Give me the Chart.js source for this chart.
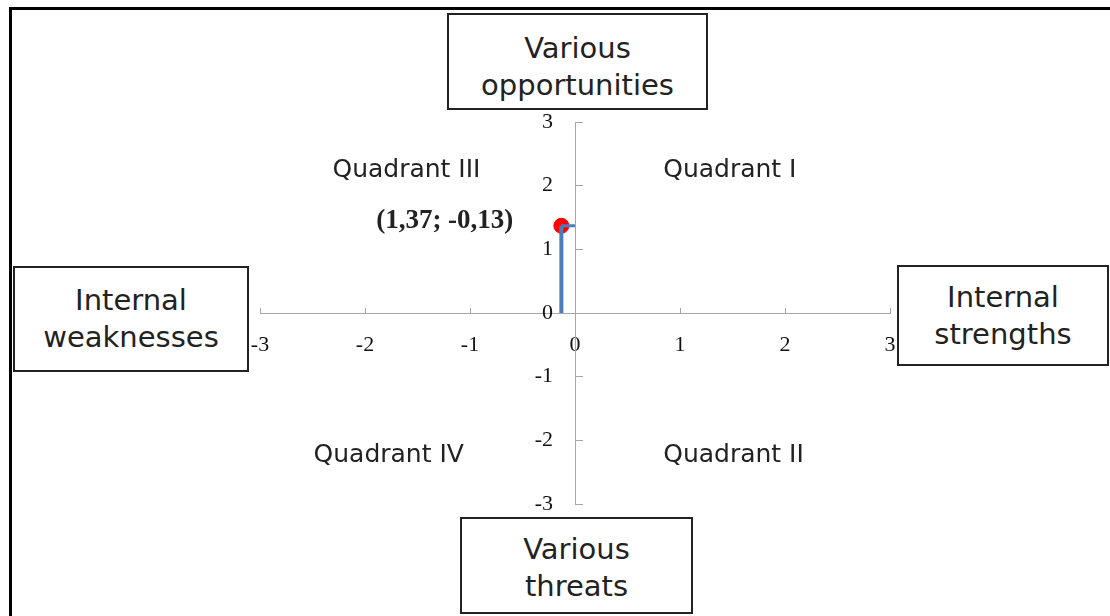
<!DOCTYPE html>
<html>
<head>
<meta charset="utf-8">
<script src="https://cdn.jsdelivr.net/npm/chart.js@4.4.1/dist/chart.umd.min.js"></script>
<style>
  html, body { margin: 0; padding: 0; background: #fff; }
  #wrap { position: relative; width: 1110px; height: 616px; overflow: hidden; }
  #frame { position: absolute; left: 9px; top: 7px; width: 1200px; height: 700px;
           border-top: 3px solid #000; border-left: 3px solid #000; }
  canvas { position: absolute; left: 0; top: 0; }
  .box { position: absolute; box-sizing: border-box; border: 2px solid #222; background: #fff;
         font-family: "DejaVu Sans", Verdana, sans-serif; font-size: 29px; color: #222;
         text-align: center; line-height: 37px; padding-top: 12px; }
</style>
</head>
<body>
<div id="wrap">
  <div id="frame"></div>
  <canvas id="swotChart" width="1110" height="616"></canvas>
  <div class="box" style="left:447px; top:13px; width:261px; height:97px; padding-top:15px;">Various<br>opportunities</div>
  <div class="box" style="left:13px; top:266px; width:236px; height:106px; padding-top:14px;">Internal<br>weaknesses</div>
  <div class="box" style="left:897px; top:265px; width:212px; height:101px; padding-top:12px;">Internal<br>strengths</div>
  <div class="box" style="left:460px; top:517px; width:233px; height:97px; padding-top:12px;">Various<br>threats</div>
</div>
<script>
// position of the company (x = internal, y = external)
const pointX = [-0.13];
const pointY = [1.37];
const axisMin = -3;
const axisMax = 3;
const pointLabel = '(1,37; -0,13)';

const quadrantNames = ['Quadrant III', 'Quadrant I', 'Quadrant IV', 'Quadrant II'];
const quadrantX = [-2.31, 0.84, -2.49, 0.84];
const quadrantY = [2.24, 2.24, -2.24, -2.24];

const labelsPlugin = {
  id: 'quadrantLabels',
  afterDatasetsDraw(chart) {
    const {ctx, scales: {x, y}} = chart;
    ctx.save();
    ctx.fillStyle = '#222';
    ctx.textBaseline = 'middle';
    ctx.textAlign = 'left';
    ctx.font = '25px "DejaVu Sans", Verdana, sans-serif';
    quadrantNames.forEach((name, i) => {
      ctx.fillText(name, x.getPixelForValue(quadrantX[i]), y.getPixelForValue(quadrantY[i]));
    });
    ctx.font = 'bold 27px "Liberation Serif", "Times New Roman", serif';
    ctx.textAlign = 'right';
    ctx.fillText(pointLabel, x.getPixelForValue(pointX[0]) - 48, y.getPixelForValue(pointY[0]) - 5);
    ctx.restore();
  }
};

const tickFont = { family: '"Liberation Serif", "Times New Roman", serif', size: 22 };

new Chart(document.getElementById('swotChart'), {
  type: 'scatter',
  data: {
    datasets: [
      {
        data: [{x: pointX[0], y: 0}, {x: pointX[0], y: pointY[0]}],
        showLine: true,
        borderColor: '#4a7ebb',
        borderWidth: 4,
        pointRadius: 0
      },
      {
        data: [{x: pointX[0], y: pointY[0]}, {x: 0, y: pointY[0]}],
        showLine: true,
        borderColor: '#4a7ebb',
        borderWidth: 3,
        pointRadius: 0
      },
      {
        data: pointX.map((v, i) => ({x: v, y: pointY[i]})),
        backgroundColor: '#ff0000',
        borderColor: '#ff0000',
        pointRadius: 7.5
      }
    ]
  },
  options: {
    responsive: false,
    animation: false,
    layout: { padding: { left: 260, right: 220, top: 122, bottom: 112 } },
    plugins: { legend: { display: false }, tooltip: { enabled: false } },
    scales: {
      x: {
        type: 'linear',
        min: axisMin,
        max: axisMax,
        position: { y: 0 },
        border: { color: '#a6a6a6', width: 1 },
        grid: { drawOnChartArea: false, drawTicks: true, tickLength: -6, color: '#a6a6a6' },
        ticks: { stepSize: 1, padding: 25, color: '#111', font: tickFont, maxRotation: 0 }
      },
      y: {
        type: 'linear',
        min: axisMin,
        max: axisMax,
        position: { x: 0 },
        border: { color: '#a6a6a6', width: 1 },
        grid: { drawOnChartArea: false, drawTicks: true, tickLength: -8, color: '#a6a6a6' },
        // centred axis: labels sit right-aligned on the axis, so pad them with spaces
        ticks: { stepSize: 1, color: '#111', font: tickFont, callback: v => v + '    ' }
      }
    }
  },
  plugins: [labelsPlugin]
});
</script>
</body>
</html>
